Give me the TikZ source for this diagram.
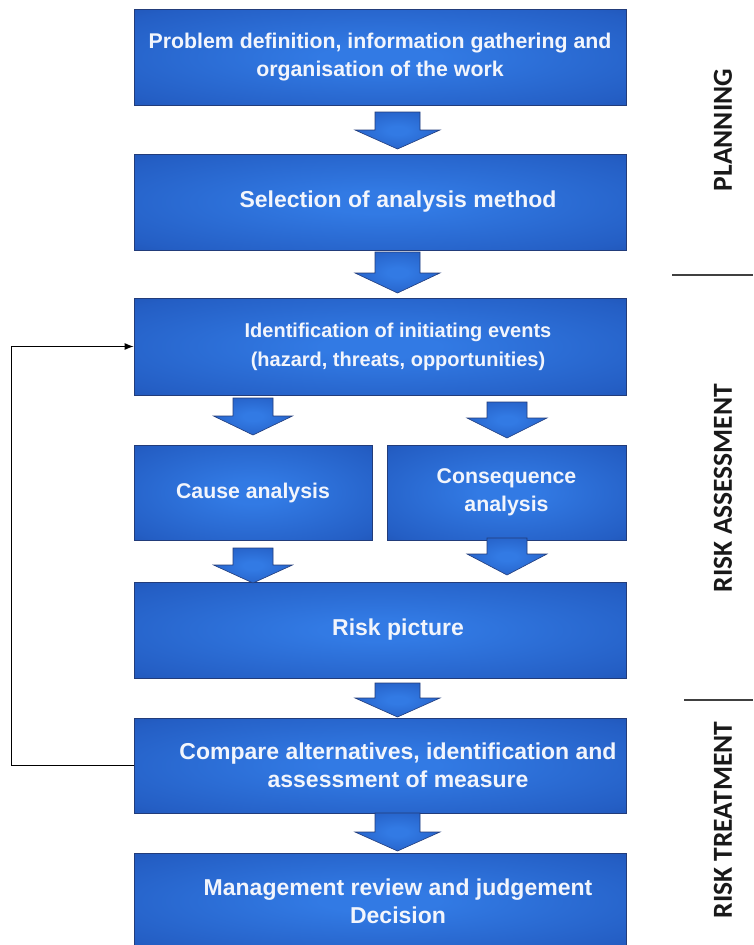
\documentclass[tikz,border=0pt]{standalone}
\usepackage{fontspec}
\setmainfont{Liberation Sans}
\newfontfamily\sidefont{Carlito}
\usetikzlibrary{arrows.meta}

\definecolor{boxhi}{RGB}{50,122,228}
\definecolor{boxmid}{RGB}{36,94,196}
\definecolor{boxlo}{RGB}{21,56,138}
\definecolor{boxedge}{RGB}{34,60,122}
\definecolor{boxtext}{RGB}{242,245,252}

% soft glow: light centre fading to darker blue edges
\pgfdeclareradialshading{boxglow}{\pgfpoint{0bp}{0bp}}{%
  color(0bp)=(boxhi); color(6bp)=(boxhi); color(32bp)=(boxmid); color(56bp)=(boxlo); color(75bp)=(boxlo)}

\tikzset{
  stage/.style={rectangle, shade, shading=boxglow, draw=boxedge, line width=0.8pt,
    text=boxtext, align=center, inner sep=0pt,
    font=\bfseries\fontsize{23}{28}\selectfont},
  smalltext/.style={font=\bfseries\fontsize{21.3}{28}\selectfont},
  flowarrow/.style={shade, shading=boxglow, draw=boxedge, line width=0.6pt},
  feedback/.style={draw=black, line width=1pt, -{Latex[length=9pt,width=7pt]}},
  phase/.style={font=\sidefont\bfseries\fontsize{27.5}{30}\selectfont, rotate=90, text=black!90},
  divider/.style={draw=black!75, line width=1.2pt}
}

% text shifted right of the box centre
\newcommand\offc[1]{\hspace*{36pt}#1}

% block arrow: centre x, top y, neck y, tip y, half shaft width, half head width
\newcommand\blockarrow[6]{%
  \path[flowarrow] (#1-#5,#2) -- (#1+#5,#2) -- (#1+#5,#3) -- (#1+#6,#3)
    -- (#1,#4) -- (#1-#6,#3) -- (#1-#5,#3) -- cycle;}

\begin{document}
\begin{tikzpicture}[x=1pt,y=-1pt]
\useasboundingbox (0,0) rectangle (753,945);
\clip (0,0) rectangle (753,945);
\fill[white] (0,0) rectangle (753,945);

% process stages
\node[stage, smalltext, minimum width=492pt, minimum height=96pt] (define) at (380,57)
  {Problem definition, information gathering and\\organisation of the work};
\node[stage, minimum width=492pt, minimum height=96pt] (method) at (380,202)
  {\offc{Selection of analysis method}};
\node[stage, font=\bfseries\fontsize{20}{29}\selectfont, minimum width=492pt, minimum height=97pt] (events) at (380,346.5)
  {\offc{Identification of initiating events}\\\offc{(hazard, threats, opportunities)}};
\node[stage, smalltext, minimum width=238pt, minimum height=95pt] (cause) at (253,492.5)
  {Cause analysis};
\node[stage, smalltext, minimum width=239pt, minimum height=95pt] (conseq) at (506.5,492.5)
  {Consequence\\analysis};
\node[stage, minimum width=492pt, minimum height=96pt] (picture) at (380,630)
  {\offc{Risk picture}};
\node[stage, minimum width=492pt, minimum height=95pt] (compare) at (380,765.5)
  {\offc{Compare alternatives, identification and}\\\offc{assessment of measure}};
\node[stage, minimum width=492pt, minimum height=96pt] (decide) at (380,901)
  {\offc{Management review and judgement}\\\offc{Decision}};

% flow arrows between stages
\blockarrow{397.5}{112}{130}{149}{22.5}{42.5}
\blockarrow{397.5}{252}{273}{293}{22.5}{42.5}
\blockarrow{253}{398}{416}{435}{20}{39.5}
\blockarrow{507}{402}{418}{438}{20}{40}
\blockarrow{253}{548}{565}{583}{20}{39.5}
\blockarrow{507}{538}{554}{575}{20}{40}
\blockarrow{397.5}{683}{698}{717}{22.5}{42.5}
\blockarrow{397.5}{813}{832}{851}{22.5}{42.5}

% iteration loop back to event identification
\draw[feedback] (compare.west) -- ++(-122,0) |- (events.west);

% phase labels and dividers
\node[phase] (planning) at (723,130) {PLANNING};
\node[phase] (assessment) at (723,488) {RISK ASSESSMENT};
\node[phase] (treatment) at (723,820) {RISK TREATMENT};
\draw[divider] (672,275) -- (753,275);
\draw[divider] (684,700) -- (753,700);
\end{tikzpicture}
\end{document}
